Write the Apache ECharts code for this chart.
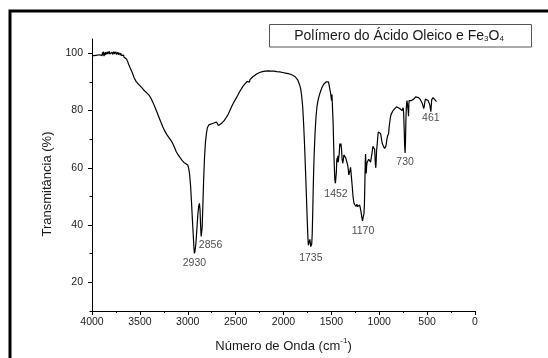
<!DOCTYPE html>
<html>
<head>
<meta charset="utf-8">
<script src="https://cdn.jsdelivr.net/npm/echarts@6/dist/echarts.min.js"></script>
<style>
  html, body { margin: 0; padding: 0; background: #fff; }
  #chart { width: 548px; height: 358px; }
</style>
</head>
<body>
<div id="chart"></div>
<script>
// FTIR spectrum of the oleic acid polymer with Fe3O4
const seriesName = 'Polímero do Ácido Oleico e Fe3O4';

// Wavenumber (cm-1), from 4000 down to 400
const wavenumber = [
  4000, 3980, 3960, 3940, 3920, 3910, 3900, 3895, 3890, 3885, 3880, 3875, 3870, 3865, 3860, 3855,
  3850, 3845, 3840, 3835, 3830, 3825, 3820, 3815, 3810, 3805, 3800, 3795, 3790, 3785, 3780, 3775,
  3770, 3765, 3760, 3755, 3750, 3745, 3740, 3735, 3730, 3725, 3720, 3715, 3710, 3705, 3700, 3695,
  3690, 3685, 3680, 3675, 3670, 3665, 3660, 3655, 3650, 3640, 3630, 3620, 3610, 3600, 3580, 3560,
  3540, 3520, 3500, 3480, 3460, 3440, 3420, 3400, 3380, 3360, 3340, 3320, 3300, 3280, 3260, 3240,
  3220, 3200, 3180, 3160, 3140, 3120, 3100, 3080, 3060, 3040, 3020, 3000, 2990, 2980, 2970, 2960,
  2950, 2940, 2935, 2930, 2925, 2915, 2905, 2895, 2885, 2878, 2872, 2866, 2860, 2856, 2850, 2842,
  2835, 2825, 2815, 2805, 2795, 2780, 2760, 2740, 2720, 2700, 2690, 2680, 2670, 2660, 2645, 2620,
  2600, 2580, 2560, 2540, 2520, 2500, 2480, 2460, 2440, 2420, 2400, 2380, 2370, 2365, 2360, 2355,
  2350, 2340, 2320, 2300, 2280, 2250, 2220, 2190, 2160, 2130, 2100, 2070, 2040, 2010, 1980, 1950,
  1920, 1900, 1880, 1865, 1850, 1840, 1830, 1820, 1810, 1800, 1790, 1780, 1770, 1760, 1752, 1745,
  1740, 1735, 1730, 1725, 1720, 1715, 1710, 1705, 1700, 1695, 1690, 1685, 1680, 1670, 1660, 1650,
  1640, 1625, 1610, 1595, 1580, 1565, 1555, 1545, 1530, 1520, 1512, 1508, 1502, 1498, 1494, 1488,
  1482, 1476, 1470, 1464, 1458, 1452, 1448, 1444, 1440, 1436, 1432, 1428, 1424, 1418, 1412, 1406,
  1400, 1394, 1388, 1382, 1376, 1370, 1362, 1356, 1350, 1344, 1338, 1330, 1324, 1318, 1312, 1306,
  1300, 1296, 1290, 1282, 1274, 1266, 1258, 1250, 1242, 1234, 1226, 1218, 1212, 1205, 1198, 1190,
  1182, 1175, 1170, 1165, 1160, 1155, 1150, 1146, 1143, 1140, 1136, 1132, 1128, 1122, 1116, 1110,
  1104, 1098, 1090, 1084, 1078, 1072, 1066, 1060, 1054, 1048, 1042, 1036, 1032, 1028, 1022, 1016,
  1010, 1004, 998, 992, 986, 980, 974, 968, 962, 956, 950, 944, 938, 932, 926, 920,
  914, 908, 902, 896, 890, 884, 878, 870, 860, 850, 840, 830, 820, 810, 800, 790,
  780, 770, 762, 756, 750, 745, 740, 735, 730, 726, 722, 718, 714, 710, 706, 702,
  698, 694, 691, 688, 682, 676, 670, 664, 658, 650, 640, 630, 620, 610, 600, 590,
  580, 570, 560, 550, 542, 536, 530, 524, 518, 510, 500, 490, 480, 472, 466, 461,
  457, 452, 445, 438, 430, 420, 410, 402
];

// Transmittance (%) at each wavenumber above
const transmittance = [
  99.1, 99.2, 99.3, 99.4, 99.5, 99.3, 99.9, 99.2, 100.3, 99.5, 100.6, 99.0, 100.1, 99.4, 100.4, 99.6,
  100.0, 99.1, 100.5, 99.7, 100.2, 99.3, 100.7, 99.8, 100.1, 99.4, 100.3, 99.7, 100.4, 99.6, 100.0, 99.5,
  100.6, 99.8, 100.2, 99.7, 100.5, 99.6, 100.1, 99.9, 100.3, 99.5, 100.2, 99.7, 100.0, 99.4, 100.1, 99.3,
  99.9, 99.2, 99.6, 98.9, 99.4, 98.6, 99.1, 98.3, 98.7, 98.0, 97.3, 96.4, 95.6, 94.8, 93.3, 91.5,
  90.2, 89.4, 88.7, 88.0, 87.2, 86.6, 85.9, 85.2, 84.0, 82.6, 81.0, 79.3, 77.6, 75.9, 74.3, 72.9,
  71.7, 70.7, 69.8, 68.7, 67.3, 65.6, 64.5, 63.6, 62.6, 61.9, 61.6, 61.0, 59.8, 57.5, 53.5, 47.5,
  41.0, 35.0, 31.8, 30.1, 30.8, 33.5, 38.5, 43.5, 46.8, 47.6, 45.5, 40.0, 36.0, 35.4, 39.0, 47.0,
  55.0, 63.5, 69.0, 72.0, 74.0, 75.0, 75.3, 75.5, 76.0, 76.0, 75.5, 74.8, 74.3, 74.8, 75.6, 76.5,
  77.5, 78.5, 80.0, 81.5, 82.8, 84.0, 85.2, 86.5, 87.6, 88.6, 89.4, 90.2, 90.6, 90.0, 90.7, 89.9,
  90.8, 91.3, 91.8, 92.3, 92.8, 93.3, 93.6, 93.8, 93.9, 93.8, 93.8, 93.6, 93.5, 93.3, 93.1, 92.9,
  92.6, 92.3, 91.9, 91.4, 90.6, 89.7, 88.8, 87.5, 85.0, 81.5, 75.5, 68.0, 59.0, 49.5, 41.5, 35.5,
  33.0, 32.4, 33.5, 35.0, 34.5, 32.5, 31.9, 33.5, 37.0, 44.0, 52.0, 59.0, 64.5, 72.5, 78.0, 81.5,
  83.5, 85.5, 87.0, 88.3, 89.2, 89.7, 90.0, 89.8, 90.0, 89.5, 89.6, 86.0, 85.5, 83.5, 85.6, 85.0,
  76.0, 68.0, 61.0, 56.0, 54.6, 54.3, 58.5, 62.5, 63.5, 62.0, 64.2, 62.0, 61.5, 65.0, 68.5, 67.5,
  68.5, 66.5, 63.0, 61.6, 62.5, 64.5, 64.9, 64.0, 63.5, 64.0, 63.0, 61.0, 59.5, 57.5, 57.0, 59.0,
  60.2, 59.0, 56.5, 53.5, 50.0, 48.0, 47.2, 47.0, 46.5, 47.3, 46.5, 47.1, 46.0, 47.0, 46.0, 44.5,
  42.8, 41.5, 41.1, 42.0, 44.0, 47.0, 55.0, 62.0, 64.8, 62.0, 58.0, 60.5, 61.8, 61.5, 62.0, 63.0,
  62.5, 63.2, 62.0, 63.5, 64.5, 66.0, 67.5, 68.0, 67.5, 66.5, 62.0, 60.0, 62.5, 66.0, 68.0, 70.5,
  72.5, 73.0, 73.0, 72.6, 72.0, 70.8, 69.5, 68.5, 68.0, 67.5, 67.2, 66.8, 66.5, 67.5, 68.5, 70.0,
  71.0, 71.5, 72.0, 74.5, 76.0, 77.5, 78.5, 79.0, 79.8, 80.3, 80.6, 81.0, 81.3, 80.8, 81.0, 80.8,
  81.2, 81.4, 80.0, 80.5, 81.0, 79.0, 74.0, 68.0, 65.2, 69.0, 76.0, 80.5, 82.5, 83.5, 83.6, 83.2,
  80.0, 78.0, 82.0, 83.5, 83.8, 84.0, 84.0, 83.5, 83.3, 83.6, 84.0, 84.5, 84.8, 84.9, 84.7, 84.5,
  84.1, 83.8, 83.2, 82.5, 81.5, 80.7, 81.5, 83.0, 84.0, 84.0, 84.2, 83.5, 84.1, 82.0, 81.5, 79.6,
  81.5, 83.8, 84.3, 84.5, 84.3, 83.8, 83.3, 83.1
];

// Annotated absorption bands (cm-1)
const peaks = [2930, 2856, 1735, 1452, 1170, 730, 461];

// Axis ticks
const xTicks = { min: 0, max: 4000, step: 500 };
const yMajorTicks = [20, 40, 60, 80, 100];
const yMinorTicks = [10, 30, 50, 70, 90];
const yRange = { min: 10, max: 105 };

const FONT = '"Liberation Sans", Arial, sans-serif';
const INK = '#1a1a1a';

const spectrum = wavenumber.map((w, i) => [w, transmittance[i]]);

// small nudges for band labels that sit off-centre
const labelNudge = { 2856: [9, -3], 1735: [2, 2], 461: [0, -3] };

const peakPoints = peaks.map(w => {
  const i = wavenumber.indexOf(w);
  return {
    value: [w, transmittance[i]],
    label: { offset: labelNudge[w] || [0, 0] }
  };
});

const chart = echarts.init(document.getElementById('chart'), null, { renderer: 'canvas' });

chart.setOption({
  animation: false,
  backgroundColor: '#fff',
  grid: { left: 92, right: 73, top: 39, bottom: 44 },
  xAxis: {
    type: 'value',
    inverse: true,
    min: xTicks.min,
    max: xTicks.max,
    interval: xTicks.step,
    axisLine: { show: true, onZero: false, lineStyle: { color: '#000', width: 1 } },
    axisTick: { show: true, length: 4, lineStyle: { color: '#000' } },
    minorTick: { show: true, splitNumber: 2, length: 2, lineStyle: { color: '#000' } },
    splitLine: { show: false },
    axisLabel: { margin: 6, fontSize: 10.5, color: INK, fontFamily: FONT, formatter: v => String(v) },
    name: '{t|Número de Onda (cm}{p|-1}{t|)}',
    nameLocation: 'middle',
    nameGap: 26,
    nameTextStyle: {
      rich: {
        t: { fontSize: 13, color: INK, fontFamily: FONT, lineHeight: 16, verticalAlign: 'bottom' },
        p: { fontSize: 8, color: INK, fontFamily: FONT, lineHeight: 9, verticalAlign: 'top' }
      }
    }
  },
  yAxis: [
    {
      type: 'value',
      position: 'left',
      min: yRange.min,
      max: yRange.max,
      axisLine: { show: true, onZero: false, lineStyle: { color: '#000', width: 1 } },
      axisTick: { show: true, length: 4, customValues: yMajorTicks, lineStyle: { color: '#000' } },
      axisLabel: { customValues: yMajorTicks, margin: 9, fontSize: 10.5, color: INK, fontFamily: FONT },
      splitLine: { show: false },
      name: 'Transmitância (%)',
      nameLocation: 'middle',
      nameGap: 38,
      nameTextStyle: { fontSize: 13, color: INK, fontFamily: FONT, padding: [0, 18, 0, 0] }
    },
    {
      type: 'value',
      position: 'left',
      min: yRange.min,
      max: yRange.max,
      axisLine: { show: false, onZero: false },
      axisTick: { show: true, length: 2.5, customValues: yMinorTicks, lineStyle: { color: '#000' } },
      axisLabel: { show: false },
      splitLine: { show: false }
    }
  ],
  series: [
    {
      name: seriesName,
      type: 'line',
      data: spectrum,
      showSymbol: false,
      smooth: false,
      lineStyle: { color: '#000', width: 1.2 },
      silent: true,
      z: 3
    },
    {
      name: 'bands',
      type: 'scatter',
      data: peakPoints,
      symbolSize: 0,
      silent: true,
      label: {
        show: true,
        position: 'bottom',
        distance: 4,
        formatter: p => String(p.value[0]),
        fontSize: 10.5,
        color: INK,
        fontFamily: FONT
      },
      z: 4
    }
  ],
  graphic: [
    // outer frame (left and top edges)
    {
      type: 'rect',
      shape: { x: 10, y: 11, width: 700, height: 500 },
      style: { fill: 'none', stroke: '#000', lineWidth: 3 },
      silent: true
    },
    // legend box
    {
      type: 'rect',
      shape: { x: 269.5, y: 24.5, width: 262, height: 22.5 },
      style: { fill: '#fff', stroke: '#555', lineWidth: 1 },
      silent: true
    },
    {
      type: 'text',
      x: 399,
      y: 35,
      style: {
        text: '{n|Polímero do Ácido Oleico e Fe}{s|3}{n|O}{s|4}',
        align: 'center',
        verticalAlign: 'middle',
        rich: {
          n: { fontSize: 14, fill: INK, fontFamily: FONT, lineHeight: 16, verticalAlign: 'bottom' },
          s: { fontSize: 8, fill: INK, fontFamily: FONT, lineHeight: 5, verticalAlign: 'bottom' }
        }
      },
      silent: true
    }
  ]
});
</script>
</body>
</html>
